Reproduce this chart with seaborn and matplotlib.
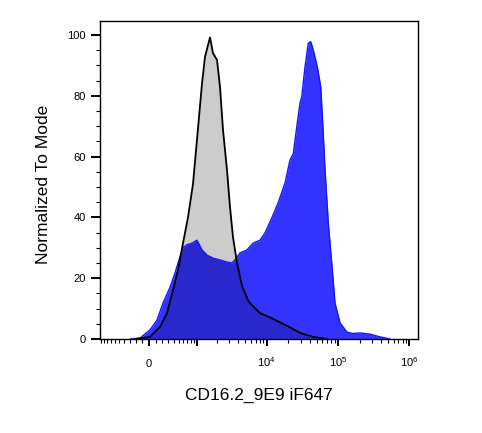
import matplotlib
matplotlib.use("Agg")
import matplotlib.pyplot as plt
from matplotlib.ticker import FixedLocator, MultipleLocator
import seaborn as sns

# === data: fluorescence value -> % of mode ===
iso_x = [-210, 15, 163, 276, 384, 485, 599, 728, 876, 1010, 1203, 1333, 1579,
         1745, 1993, 2199, 2427, 2767, 3051, 3366, 3834, 4509, 5477, 5841,
         7326, 8073, 11147, 15390, 21258, 29340, 44618, 70110]
iso_y = [0, 0.7, 4, 8.5, 16, 22.7, 31.5, 40, 51, 65.5, 84, 92.8, 99.2,
         94, 91.8, 83, 68.8, 55.6, 43.4, 33.5, 25, 17.5, 12.8, 11.8,
         9.5, 8.5, 7.1, 5.5, 3.8, 2.0, 0.7, 0]

cd16_x = [-293, -132, 15, 117, 210, 329, 423, 529, 599, 700, 844, 1010, 1203,
          1427, 1745, 2199, 2767, 3256, 3591, 4221, 5301, 6435, 8073, 9490,
          11898, 14445, 18090, 21258, 23650, 26390, 29340, 31000, 34470,
          38360, 41440, 45070, 51280, 57240, 61040, 65745, 73130, 81630,
          90765, 106650, 132435, 160000, 203310, 280620, 387450, 534870]
cd16_y = [0, 0.3, 3, 6.2, 11.8, 17, 21.7, 27, 30, 31, 31.5, 32.5, 29.3,
          27.6, 26.6, 26, 25.3, 25, 26, 28.3, 29.3, 31.5, 32.5, 34.9,
          40, 44.7, 51.3, 58.9, 61, 69.7, 77.6, 79.6, 89.5,
          97.3, 97.8, 95, 89.5, 83, 71, 55.6, 38, 25,
          11.8, 5.3, 2.3, 1.8, 2.0, 1.6, 0.7, 0]

x_major = [0, 1e3, 1e4, 1e5, 1e6]
x_major_labels = ["0", "", r"$10^4$", r"$10^5$", r"$10^6$"]
x_minor = ([-k * 100 for k in range(1, 11)] + [k * 100 for k in range(1, 10)]
           + [k * 1e3 for k in range(2, 10)] + [k * 1e4 for k in range(2, 10)]
           + [k * 1e5 for k in range(2, 10)])
y_major = [0, 20, 40, 60, 80, 100]

# === style ===
sns.set_style("ticks")
plt.rcParams["font.family"] = ["Liberation Sans", "DejaVu Sans"]
plt.rcParams["text.color"] = "black"
plt.rcParams["axes.labelcolor"] = "black"
plt.rcParams["xtick.color"] = "black"
plt.rcParams["ytick.color"] = "black"
plt.rcParams["mathtext.fontset"] = "custom"
plt.rcParams["mathtext.rm"] = "Liberation Sans"
plt.rcParams["mathtext.it"] = "Liberation Sans:italic"
plt.rcParams["mathtext.bf"] = "Liberation Sans:bold"

fig = plt.figure(figsize=(4.82, 4.33), dpi=100)
ax = fig.add_axes([0.2075, 0.2171, 0.6598, 0.7344])
ax.set_xscale("asinh", linear_width=450)

# === histograms ===
ax.fill_between(cd16_x, cd16_y, color="#3333ff", lw=0)
sns.lineplot(x=cd16_x, y=cd16_y, ax=ax, color="#1414ff", lw=1.0)
ax.fill_between(iso_x, iso_y, color="black", alpha=0.2, lw=0)
sns.lineplot(x=iso_x, y=iso_y, ax=ax, color="black", lw=1.3)

ax.set_xlim(-1045, 1.32e6)
ax.set_ylim(0, 104.6)

# === axes / ticks ===
ax.xaxis.set_major_locator(FixedLocator(x_major))
ax.xaxis.set_minor_locator(FixedLocator(x_minor))
ax.set_xticklabels(x_major_labels)
ax.set_yticks(y_major)
ax.yaxis.set_minor_locator(MultipleLocator(5))

ax.tick_params(axis="x", which="major", direction="out", length=5, width=1.4,
               labelsize=8, pad=15, colors="black")
ax.tick_params(axis="y", which="major", direction="out", length=6.5, width=1.4,
               labelsize=8, pad=3.6, colors="black")
ax.tick_params(axis="both", which="minor", direction="out", length=3.2, width=0.8,
               colors="black")
plt.setp(ax.get_xticklabels(), va="baseline")

for s in ax.spines.values():
    s.set_color("black")
    s.set_linewidth(1.0)

ax.set_xlabel("CD16.2_9E9 iF647", fontsize=12.5, color="black")
ax.set_ylabel("Normalized To Mode", fontsize=12.5, color="black")
ax.xaxis.set_label_coords(0.5, -0.1525)
ax.yaxis.set_label_coords(-0.154, 0.487)

fig.savefig("out.png", dpi=100)
